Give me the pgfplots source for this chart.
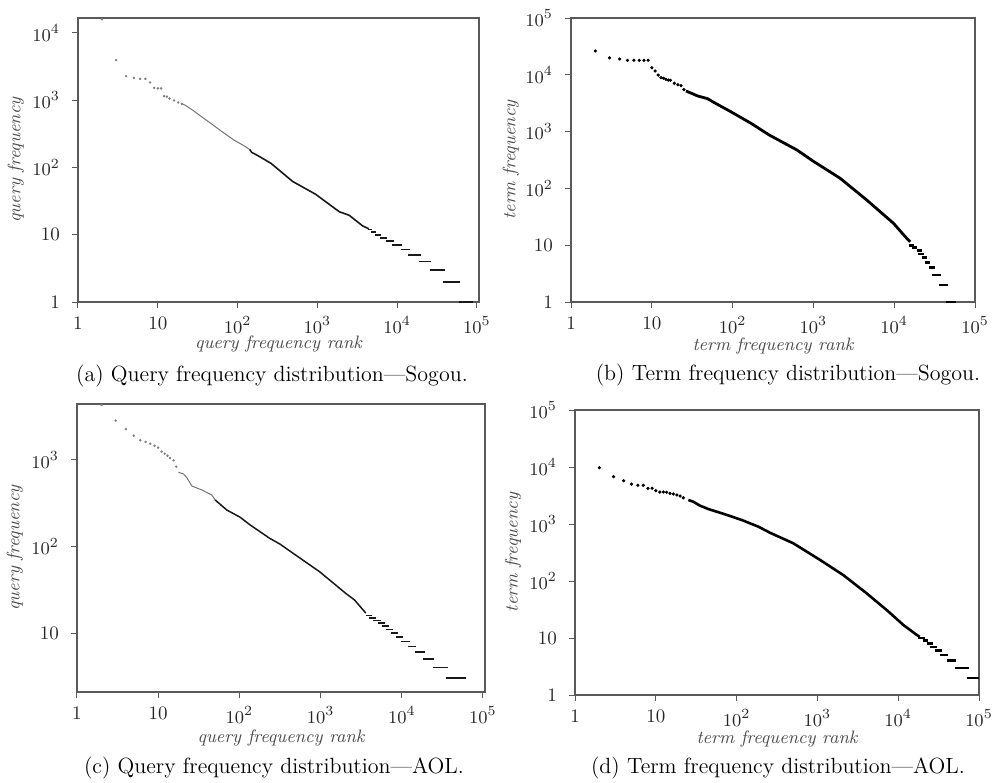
\documentclass[border=0pt]{standalone}
\usepackage{pgfplots}
\pgfplotsset{compat=1.18}
\pgfplotsset{
  myax/.style={
    scale only axis,
    clip=false,
    axis line style={black!65, line width=0.6pt},
    tick style={black!65, line width=0.5pt},
    tick align=outside, tick pos=left, major tick length=3pt,
    xminorticks=false, yminorticks=false,
    xmin=1,
    xtick={1,10,100,1000,10000,100000},
    xticklabels={1,10,$10^2$,$10^3$,$10^4$,$10^5$},
    ticklabel style={font=\fontsize{9.5}{11}\selectfont, text=black!85},
    xticklabel style={inner sep=1pt, yshift=-3.2pt},
    yticklabel style={xshift=-2.5pt},
    label style={font=\fontsize{9}{11}\selectfont\itshape, text=black!70, inner sep=0.5pt},
    unbounded coords=jump,
  },
  headlight/.style={only marks, mark=*, mark size=0.4pt, black!50},
  headdark/.style={only marks, mark=*, mark size=0.6pt, black},
}
\begin{document}
\begin{tikzpicture}
\path[use as bounding box] (0pt,0pt) rectangle (499pt,-391.5pt);

% ---------------- (a) Query frequency -- Sogou
\begin{loglogaxis}[myax, at={(39pt,-151pt)}, anchor=south west,
  width=200.5pt, height=142pt, xmax=106000, ymin=1, ymax=16700,
  ytick={1,10,100,1000,10000}, yticklabels={1,10,$10^2$,$10^3$,$10^4$},
  xlabel={query frequency rank}, ylabel={query frequency},
  xlabel style={at={(axis description cs:0.5,-0.148)}, anchor=center},
  ylabel style={at={(axis description cs:-0.155,0.5)}, anchor=center}]
\addplot[headlight] coordinates {(2,16000)(3,3950)(4,2280)(5,2150)(6,2080)(7,2080)(8,1840)(9,1530)(10,1500)(11,1500)(12,1150)(13,1130)(14,1060)(16,993)(18,927)(20,884)};
\addplot[black!55, line width=0.5pt] coordinates {(20,884)(22,846)(27,720)(36,560)(46,455)(62,350)(90,256)(125,205)(142,185)};
\addplot[black!90, line width=0.8pt] coordinates {(142,185)(150,168)(180,150)(263,115)(490,62)(950,40)(1880,22)(2500,19.5)(3700,13.5)(4400,12.3)};
\addplot[black!90, line width=0.8pt] coordinates {
(4300,12)(4800,12)(4800,nan)
(4680,11)(5500,11)(5500,nan)
(5310,10)(6310,10)(6310,nan)
(6170,9)(7410,9)(7410,nan)
(7240,8)(9120,8)(9120,nan)
(8710,7)(11480,7)(11480,nan)
(11220,6)(14450,6)(14450,nan)
(13800,5)(19950,5)(19950,nan)
(18840,4)(26900,4)(26900,nan)
(25700,3)(39800,3)(39800,nan)
(37150,2)(61660,2)(61660,nan)
(59570,1)(89100,1)};
\end{loglogaxis}

% ---------------- (b) Term frequency -- Sogou
\begin{loglogaxis}[myax, at={(285.5pt,-151pt)}, anchor=south west,
  width=202pt, height=142pt, xmax=100000, ymin=1, ymax=100000,
  ytick={1,10,100,1000,10000,100000}, yticklabels={1,10,$10^2$,$10^3$,$10^4$,$10^5$},
  xlabel={term frequency rank}, ylabel={term frequency},
  xlabel style={at={(axis description cs:0.5,-0.155)}, anchor=center},
  ylabel style={at={(axis description cs:-0.149,0.5)}, anchor=center}]
\addplot[headdark] coordinates {(2,26300)(3,19900)(4,19000)(5,18000)(6,18000)(7,18000)(8,18000)(9,18000)(10,13300)(11,11700)(12,9900)(13,8890)(14,8670)(15,8300)(16,8090)(17,8000)(19,7080)(21,6700)(23,6450)(25,5500)};
\addplot[black, line width=1.4pt] coordinates {(26.5,5190)(37,4240)(49,3800)(59,3250)(95,2240)(169,1400)(284,871)(627,474)(1000,300)(2140,151)(4570,62.5)(9800,24.3)(14300,13.2)(15800,11.5)};
\addplot[black, line width=1.4pt] coordinates {
(15140,10)(17380,10)(17380,nan)
(16600,9)(19050,9)(19050,nan)
(18970,8)(21880,8)(21880,nan)
(19950,7)(23440,7)(23440,nan)
(21880,6)(25120,6)(25120,nan)
(23990,5)(27540,5)(27540,nan)
(26920,4)(31990,4)(31990,nan)
(29510,3)(37580,3)(37580,nan)
(35890,2)(45710,2)(45710,nan)
(43650,1)(58880,1)};
\end{loglogaxis}

% ---------------- (c) Query frequency -- AOL
\begin{loglogaxis}[myax, at={(38.5pt,-346pt)}, anchor=south west,
  width=204pt, height=144pt, xmax=105900, ymin=2.08, ymax=4436,
  ytick={10,100,1000}, yticklabels={10,$10^2$,$10^3$},
  xlabel={query frequency rank}, ylabel={query frequency},
  xlabel style={at={(axis description cs:0.5,-0.158)}, anchor=center},
  ylabel style={at={(axis description cs:-0.152,0.5)}, anchor=center}]
\addplot[headlight] coordinates {(2,4320)(3,2850)(4,2270)(5,1910)(6,1690)(7,1615)(8,1540)(9,1460)(10,1390)(11,1250)(12,1180)(13,1120)(14,1055)(15.5,990)(16.7,837)};
\addplot[black!55, line width=0.5pt] coordinates {(17.8,721)(20.5,689)(22.5,625)(26,500)(34.5,450)(45.7,394)(50.3,345)};
\addplot[black!90, line width=0.75pt] coordinates {(50.3,345)(70,264)(102,218)(135,178)(237,124)(314,107)(600,70)(975,51)(2080,28.3)(2630,24)(3600,17)};
\addplot[black!90, line width=0.8pt] coordinates {
(3589,16)(4335,16)(4335,nan)
(3981,15)(4853,15)(4853,nan)
(4416,14)(5495,14)(5495,nan)
(5082,13)(6166,13)(6166,nan)
(5754,12)(6918,12)(6918,nan)
(6457,11)(7762,11)(7762,nan)
(7413,10)(8913,10)(8913,nan)
(8511,9)(10230,9)(10230,nan)
(9772,8)(12470,8)(12470,nan)
(11890,7)(15140,7)(15140,nan)
(14350,6)(19050,6)(19050,nan)
(18200,5)(25120,5)(25120,nan)
(24150,4)(36900,4)(36900,nan)
(35240,3)(62090,3)};
\end{loglogaxis}

% ---------------- (d) Term frequency -- AOL
\begin{loglogaxis}[myax, at={(287.5pt,-347.5pt)}, anchor=south west,
  width=202pt, height=142.5pt, xmax=100000, ymin=1, ymax=100000,
  ytick={1,10,100,1000,10000,100000}, yticklabels={1,10,$10^2$,$10^3$,$10^4$,$10^5$},
  xlabel={term frequency rank}, ylabel={term frequency},
  xlabel style={at={(axis description cs:0.5,-0.155)}, anchor=center},
  ylabel style={at={(axis description cs:-0.153,0.5)}, anchor=center}]
\addplot[headdark] coordinates {(2,9720)(3,6760)(4,5750)(5,5020)(6,4780)(7,4780)(8,4230)(9,4230)(10,3840)(11.2,3640)(12.4,3640)(13.6,3600)(15,3450)(16.5,3360)(18.2,3230)(20,3090)(21.9,2880)};
\addplot[black, line width=1.3pt] coordinates {(25.3,2640)(29.1,2460)(35.2,2100)(44.7,1830)(71.8,1480)(116,1175)(186,898)(259,703)(299,641)(503,459)(1080,234)(2090,127)(4070,60.8)(7200,31)(11600,16.9)(17000,11.3)(18500,10.5)};
\addplot[black, line width=1.3pt] coordinates {
(17780,10)(21380,10)(21380,nan)
(20420,9)(23440,9)(23440,nan)
(22540,8)(27230,8)(27230,nan)
(24550,7)(29920,7)(29920,nan)
(28510,6)(34670,6)(34670,nan)
(32890,5)(41690,5)(41690,nan)
(39810,4)(52480,4)(52480,nan)
(50120,3)(74990,3)(74990,nan)
(71610,2)(100000,2)};
\end{loglogaxis}

% captions
\node[anchor=base, font=\fontsize{11}{13}\selectfont] at (136pt,-190.5pt) {(a) Query frequency distribution\textemdash Sogou.};
\node[anchor=base, font=\fontsize{11}{13}\selectfont] at (394pt,-190pt) {(b) Term frequency distribution\textemdash Sogou.};
\node[anchor=base, font=\fontsize{11}{13}\selectfont] at (137pt,-386.5pt) {(c) Query frequency distribution\textemdash AOL.};
\node[anchor=base, font=\fontsize{11}{13}\selectfont] at (389pt,-386.5pt) {(d) Term frequency distribution\textemdash AOL.};
\end{tikzpicture}
\end{document}
